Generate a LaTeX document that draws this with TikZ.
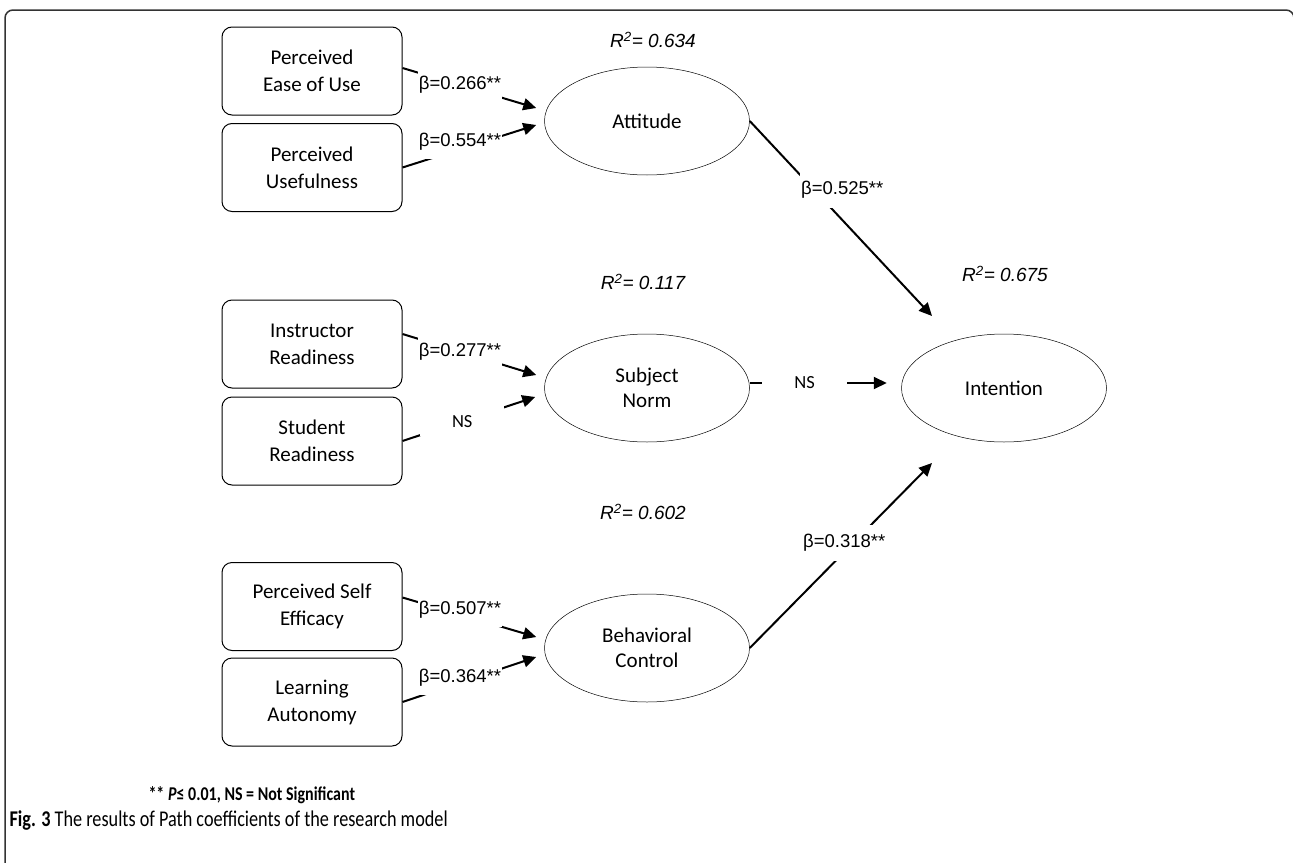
\documentclass[tikz,border=0pt]{standalone}
\usepackage{fontspec}
\setmainfont{Carlito}
\newfontfamily\arialfont{Liberation Sans}
\newfontfamily\capfont[FakeStretch=0.81]{Carlito}
\newfontfamily\notefont[FakeStretch=0.82]{Carlito}
\usetikzlibrary{shapes.geometric,arrows.meta,calc}

\begin{document}
\begin{tikzpicture}[x=1pt,y=-1pt,
                construct/.style = {draw, rounded corners=10pt, line width=1pt, minimum width=180pt, minimum height=88pt, align=center, font=\fontsize{21}{27}\selectfont},
                latent/.style = {draw, ellipse, line width=0.5pt, minimum width=205pt, minimum height=108pt, inner sep=0pt, align=center, font=\fontsize{21}{25}\selectfont},
                pathline/.style = {line width=2pt, -{Triangle[length=13pt,width=12pt]}},
                coef/.style = {fill=white, inner xsep=1pt, inner ysep=9pt, font=\arialfont\fontsize{18.5}{20}\selectfont},
                nsmark/.style = {fill=white, inner ysep=9pt, font=\fontsize{18.5}{20}\selectfont},
                rsq/.style = {font=\arialfont\itshape\fontsize{19}{20}\selectfont}
                ]
                \useasboundingbox (0,0) rectangle (1293,862);
                \draw[line width=1.5pt, black!80, rounded corners=8pt] (5,880) -- (5,10) -- (1294,10) -- (1294,880);

                \node[construct] (peou) at (312,71) {Perceived\\Ease of Use};
                \node[construct] (pu) at (312,167.5) {Perceived\\Usefulness};
                \node[construct] (ir) at (312,344) {Instructor\\Readiness};
                \node[construct] (sr) at (312,441) {Student\\Readiness};
                \node[construct] (pse) at (312,606.5) {Perceived Self\\Efficacy};
                \node[construct] (la) at (312,702) {Learning\\Autonomy};

                \node[latent] (att) at (647,121) {Attitude};
                \node[latent] (sn) at (647,388) {Subject\\Norm};
                \node[latent] (bc) at (647,648) {Behavioral\\Control};
                \node[latent] (int) at (1004,388) {Intention};

                \node[rsq] (r-att) at (653,40) {R\textsuperscript{2}= 0.634};
                \node[rsq] (r-sn) at (643,282) {R\textsuperscript{2}= 0.117};
                \node[rsq] (r-bc) at (643,512) {R\textsuperscript{2}= 0.602};
                \node[rsq] (r-int) at (1005,274) {R\textsuperscript{2}= 0.675};

                \coordinate (att-in1) at ([shift={(-8,-13)}]att.west);
                \coordinate (att-in2) at ([shift={(-8,4)}]att.west);
                \coordinate (sn-in1) at ([shift={(-8,-13)}]sn.west);
                \coordinate (sn-in2) at ([shift={(-9,9)}]sn.west);
                \coordinate (bc-in1) at ([shift={(-8,-11)}]bc.west);
                \coordinate (bc-in2) at ([shift={(-8,9)}]bc.west);
                \coordinate (int-in1) at ([shift={(-72,-72)}]int.center);
                \coordinate (int-in2) at ([shift={(-14.5,-5)}]int.west);
                \coordinate (int-in3) at ([shift={(-72,75)}]int.center);

                \draw[pathline] ([yshift=3pt]peou.east) -- node[coef, pos=0.43] {β=0.266**} (att-in1);
                \draw[pathline] (pu.east) -- node[coef, pos=0.43, yshift=8pt] {β=0.554**} (att-in2);
                \draw[pathline] ([yshift=10pt]ir.east) -- node[coef, pos=0.43] {β=0.277**} (sn-in1);
                \draw[pathline] (sr.east) -- node[nsmark, inner xsep=32pt, pos=0.45] {NS} (sn-in2);
                \draw[pathline] ([yshift=9pt]pse.east) -- node[coef, pos=0.43, yshift=5pt] {β=0.507**} (bc-in1);
                \draw[pathline] (la.east) -- node[coef, pos=0.43, yshift=5pt] {β=0.364**} (bc-in2);

                \draw[pathline] (att.east) -- node[coef, pos=0.354, xshift=28pt] {β=0.525**} (int-in1);
                \draw[pathline] ([yshift=5pt]sn.east) -- node[nsmark, inner xsep=32pt, pos=0.40] {NS} (int-in2);
                \draw[pathline] (bc.east) -- node[coef, pos=0.568, xshift=-9pt] {β=0.318**} (int-in3);

                \node[anchor=west, font=\notefont\bfseries\fontsize{19.5}{22}\selectfont] (note) at (145,795) {** \textit{P}≤ 0.01, NS = Not Significant};
                \node[anchor=west, font=\capfont\fontsize{22.5}{25}\selectfont] (caption) at (6,821) {\textbf{Fig. 3} The results of Path coefficients of the research model};
            \end{tikzpicture}
\end{document}
